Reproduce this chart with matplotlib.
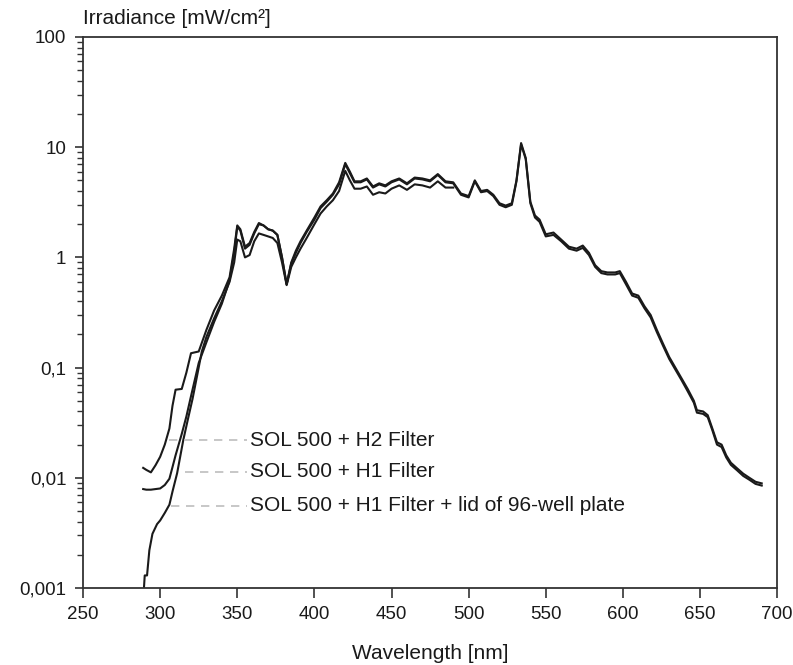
import matplotlib
matplotlib.use("Agg")
import matplotlib.pyplot as plt
from matplotlib.ticker import FixedLocator, LogLocator, NullFormatter

plt.rcParams['font.family'] = ['Liberation Sans', 'DejaVu Sans']

# ---------------- data ----------------
wl_h2 = [289, 291, 294, 297, 300, 303, 306, 308, 310, 314, 317, 320, 325, 330,
         335, 340, 345, 348, 350, 352, 355, 358, 361, 364, 367, 370, 373, 376,
         379, 382, 385, 388, 391, 395, 400, 404, 408, 412, 416, 420, 423, 426,
         430, 434, 438, 442, 446, 450, 455, 460, 465, 470, 475, 480, 485, 490,
         495, 500, 504, 508, 512, 516, 520, 524, 528, 531, 534, 537, 540, 543,
         546, 550, 555, 560, 565, 570, 574, 578, 582, 586, 590, 595, 598, 602,
         606, 610, 614, 618, 622, 626, 630, 634, 638, 642, 646, 648, 652, 655,
         658, 661, 664, 667, 670, 674, 678, 682, 686, 690]
irr_h2 = [0.0123, 0.0118, 0.0112, 0.013, 0.0155, 0.020, 0.028, 0.045, 0.063,
          0.064, 0.090, 0.135, 0.140, 0.22, 0.33, 0.45, 0.66, 1.2, 1.95, 1.8,
          1.25, 1.35, 1.7, 2.05, 1.95, 1.8, 1.75, 1.6, 1.0, 0.57, 0.9, 1.15,
          1.4, 1.75, 2.3, 2.9, 3.3, 3.8, 4.8, 7.2, 6.0, 4.9, 4.9, 5.2, 4.4,
          4.7, 4.5, 4.9, 5.2, 4.7, 5.3, 5.2, 5.0, 5.7, 4.9, 4.8, 3.8, 3.6,
          5.0, 4.0, 4.1, 3.7, 3.1, 2.95, 3.1, 5.0, 10.9, 8.0, 3.2, 2.4, 2.2,
          1.62, 1.68, 1.45, 1.25, 1.2, 1.28, 1.1, 0.85, 0.75, 0.73, 0.73, 0.75,
          0.6, 0.47, 0.45, 0.36, 0.30, 0.22, 0.165, 0.125, 0.100, 0.080, 0.064,
          0.050, 0.041, 0.040, 0.037, 0.028, 0.021, 0.020, 0.016, 0.0137,
          0.0122, 0.0109, 0.0100, 0.0092, 0.0089]

wl_h1 = wl_h2
irr_h1 = [0.0079, 0.0078, 0.0078, 0.0079, 0.0080, 0.0086, 0.0098, 0.0125,
          0.016, 0.025, 0.036, 0.055, 0.110, 0.17, 0.26, 0.38, 0.62, 1.1, 1.9,
          1.75, 1.2, 1.3, 1.65, 2.0, 1.95, 1.8, 1.75, 1.6, 1.0, 0.57, 0.88,
          1.1, 1.35, 1.7, 2.2, 2.8, 3.2, 3.7, 4.6, 7.0, 5.8, 4.8, 4.8, 5.1,
          4.3, 4.6, 4.4, 4.8, 5.1, 4.6, 5.2, 5.1, 4.9, 5.6, 4.8, 4.7, 3.7,
          3.5, 4.9, 3.9, 4.0, 3.6, 3.0, 2.85, 3.0, 4.9, 10.6, 7.8, 3.1, 2.3,
          2.1, 1.55, 1.6, 1.4, 1.2, 1.15, 1.22, 1.05, 0.82, 0.72, 0.70, 0.70,
          0.72, 0.57, 0.45, 0.43, 0.345, 0.285, 0.21, 0.158, 0.120, 0.096,
          0.077, 0.061, 0.048, 0.039, 0.038, 0.0355, 0.027, 0.020, 0.019,
          0.0153, 0.0131, 0.0117, 0.0104, 0.0096, 0.0088, 0.0085]

wl_lid = [289.5, 290, 291.5, 293, 295, 298, 300, 303, 306, 308, 311, 315, 318,
          321, 324, 327, 330, 335, 340, 345, 348, 350, 352, 355, 358, 361, 364,
          367, 370, 373, 376, 379, 382, 385, 388, 391, 395, 400, 404, 408, 412,
          416, 420, 423, 426, 430, 434, 438, 442, 446, 450, 455, 460, 465, 470,
          475, 480, 485, 490]
irr_lid = [0.00100, 0.0013, 0.0013, 0.0022, 0.0031, 0.0038, 0.0041, 0.0048,
           0.0057, 0.0075, 0.011, 0.022, 0.034, 0.052, 0.085, 0.14, 0.19, 0.28,
           0.40, 0.60, 0.90, 1.45, 1.4, 1.0, 1.05, 1.4, 1.65, 1.6, 1.55, 1.5,
           1.35, 0.9, 0.56, 0.82, 1.0, 1.2, 1.5, 2.0, 2.5, 2.9, 3.3, 4.0, 6.1,
           5.0, 4.2, 4.2, 4.4, 3.7, 3.9, 3.8, 4.2, 4.5, 4.1, 4.6, 4.5, 4.3, 4.9,
           4.3, 4.3]

labels = ["SOL 500 + H2 Filter", "SOL 500 + H1 Filter",
          "SOL 500 + H1 Filter + lid of 96-well plate"]
label_y = [0.022, 0.0113, 0.00555]
label_x0 = [306, 316, 307]

xticks = [250, 300, 350, 400, 450, 500, 550, 600, 650, 700]
yticks = [0.001, 0.01, 0.1, 1, 10, 100]
ytick_labels = ["0,001", "0,01", "0,1", "1", "10", "100"]

# ---------------- figure ----------------
fig = plt.figure(figsize=(7.93, 6.65), dpi=100)
ax = fig.add_axes([0.1047, 0.1158, 0.8753, 0.8286])

line_kw = dict(color="#1a1a1a", lw=1.5, solid_joinstyle="round")
ax.plot(wl_h2, irr_h2, **line_kw)
ax.plot(wl_h1, irr_h1, **line_kw)
ax.plot(wl_lid, irr_lid, **line_kw)

ax.set_yscale("log")
ax.set_xlim(250, 700)
ax.set_ylim(0.001, 100)

ax.xaxis.set_major_locator(FixedLocator(xticks))
ax.set_xticklabels([str(t) for t in xticks])
ax.yaxis.set_major_locator(FixedLocator(yticks))
ax.set_yticklabels(ytick_labels)
ax.yaxis.set_minor_locator(LogLocator(base=10, subs=range(2, 10)))
ax.yaxis.set_minor_formatter(NullFormatter())

ax.tick_params(axis="x", which="major", direction="out", length=7, width=1.2,
               color="#333333", labelsize=13.5, pad=6, labelcolor="#1a1a1a")
ax.tick_params(axis="y", which="major", direction="out", length=6, width=1.2,
               color="#333333", labelsize=13.5, pad=6, labelcolor="#1a1a1a")
ax.tick_params(axis="y", which="minor", direction="out", length=4, width=1.0,
               color="#333333")

for s in ax.spines.values():
    s.set_linewidth(1.3)
    s.set_color("#333333")

# annotations with dashed leaders
for lab, ly, lx in zip(labels, label_y, label_x0):
    ax.plot([lx, 356], [ly, ly], color="#bdbdbd", lw=1.2, ls=(0, (5, 4)))
    ax.text(358.5, ly, lab, fontsize=15, va="center", ha="left",
            color="#1a1a1a")

ax.set_xlabel("Wavelength [nm]", fontsize=15, color="#1a1a1a", labelpad=15)
fig.text(0.1047, 0.972, "Irradiance [mW/cm\u00b2]", fontsize=15,
         ha="left", va="center", color="#1a1a1a")

fig.savefig("out.png", dpi=100)
